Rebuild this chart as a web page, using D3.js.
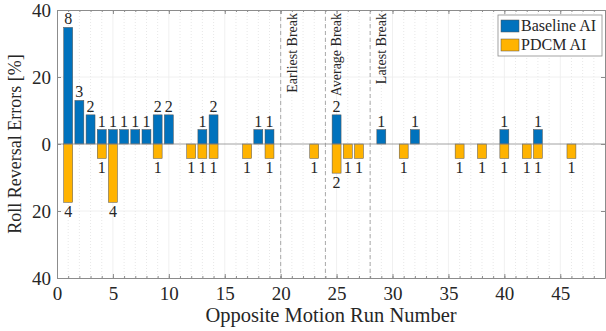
<!DOCTYPE html>
<html>
<head>
<meta charset="utf-8">
<script src="https://cdn.jsdelivr.net/npm/d3@7"></script>
<style>
  body { margin: 0; background: #fff; }
  svg { display: block; font-family: "Liberation Serif", "Times New Roman", serif; }
</style>
</head>
<body>
<div id="chart"></div>
<script>
// runs where each system made errors, percent of errors and the count printed on the bar
const baselineRuns = [1, 2, 3, 4, 5, 6, 7, 8, 9, 10, 13, 14, 18, 19, 25, 29, 32, 40, 43];
const baselineCounts = [8, 3, 2, 1, 1, 1, 1, 1, 2, 2, 1, 2, 1, 1, 2, 1, 1, 1, 1];
const baselinePct = [34.8, 13.0, 8.7, 4.3, 4.3, 4.3, 4.3, 4.3, 8.7, 8.7, 4.3, 8.7, 4.3, 4.3, 8.7, 4.3, 4.3, 4.3, 4.3];

const pdcmRuns = [1, 4, 5, 9, 12, 13, 14, 17, 19, 23, 25, 26, 27, 31, 36, 38, 40, 42, 43, 46];
const pdcmCounts = [4, 1, 4, 1, 1, 1, 1, 1, 1, 1, 2, 1, 1, 1, 1, 1, 1, 1, 1, 1];
const pdcmPct = [17.4, 4.3, 17.4, 4.3, 4.3, 4.3, 4.3, 4.3, 4.3, 4.3, 8.7, 4.3, 4.3, 4.3, 4.3, 4.3, 4.3, 4.3, 4.3, 4.3];

const breakRuns = [20, 24, 28];
const breakLabels = ['Earliest Break', 'Average Break', 'Latest Break'];

const xTicks = [0, 5, 10, 15, 20, 25, 30, 35, 40, 45];
const yTicks = [-40, -20, 0, 20, 40];
const seriesNames = ['Baseline AI', 'PDCM AI'];
const seriesColors = ['#0072BD', '#FFB300'];

const W = 606, H = 331;
const margin = { top: 10, right: 1, bottom: 53, left: 57 };
const width = W - margin.left - margin.right;
const height = H - margin.top - margin.bottom;

const svg = d3.select('#chart').append('svg')
  .attr('width', W).attr('height', H)
  .append('g')
  .attr('transform', `translate(${margin.left},${margin.top})`);

const x = d3.scaleLinear().domain([0, 49]).range([0, width]);
const y = d3.scaleLinear().domain([-40, 40]).range([height, 0]);
const barW = x(0.8) - x(0);

// grid
svg.append('g').selectAll('line')
  .data(d3.range(1, 49).filter(d => d % 5 !== 0))
  .enter().append('line')
  .attr('x1', d => x(d)).attr('x2', d => x(d))
  .attr('y1', 0).attr('y2', height)
  .attr('stroke', '#d6d6d6').attr('stroke-width', 0.6)
  .attr('stroke-dasharray', '1,2');
svg.append('g').selectAll('line')
  .data(xTicks.slice(1))
  .enter().append('line')
  .attr('x1', d => x(d)).attr('x2', d => x(d))
  .attr('y1', 0).attr('y2', height)
  .attr('stroke', '#ececec').attr('stroke-width', 0.8);
svg.append('g').selectAll('line')
  .data([-20, 20])
  .enter().append('line')
  .attr('x1', 0).attr('x2', width)
  .attr('y1', d => y(d)).attr('y2', d => y(d))
  .attr('stroke', '#ececec').attr('stroke-width', 0.8);

// break markers
svg.append('g').selectAll('line')
  .data(breakRuns)
  .enter().append('line')
  .attr('x1', d => x(d)).attr('x2', d => x(d))
  .attr('y1', 0).attr('y2', height)
  .attr('stroke', '#a0a0a0').attr('stroke-width', 0.9)
  .attr('stroke-dasharray', '4,3');
svg.append('g').selectAll('text')
  .data(breakRuns)
  .enter().append('text')
  .attr('transform', d => `translate(${x(d) + 16},3) rotate(-90)`)
  .attr('text-anchor', 'end')
  .attr('font-size', 14)
  .attr('fill', '#262626')
  .text((d, i) => breakLabels[i]);

// bars
function drawSeries(runs, pct, counts, color, sign) {
  const g = svg.append('g');
  g.selectAll('rect')
    .data(runs)
    .enter().append('rect')
    .attr('x', d => x(d) - barW / 2)
    .attr('y', (d, i) => sign > 0 ? y(pct[i]) : y(0))
    .attr('width', barW)
    .attr('height', (d, i) => Math.abs(y(0) - y(sign * pct[i])))
    .attr('fill', color)
    .attr('stroke', '#505050').attr('stroke-width', 0.5);
  g.selectAll('text')
    .data(runs)
    .enter().append('text')
    .attr('x', d => x(d))
    .attr('y', (d, i) => sign > 0 ? y(pct[i]) - 3 : y(-pct[i]) + 15)
    .attr('text-anchor', 'middle')
    .attr('font-size', 16)
    .attr('fill', '#262626')
    .text((d, i) => counts[i]);
}
drawSeries(baselineRuns, baselinePct, baselineCounts, seriesColors[0], 1);
drawSeries(pdcmRuns, pdcmPct, pdcmCounts, seriesColors[1], -1);

// zero baseline
svg.append('line')
  .attr('x1', 0).attr('x2', width)
  .attr('y1', y(0)).attr('y2', y(0))
  .attr('stroke', '#8c8c8c').attr('stroke-width', 0.8);

// axes
function styleAxis(g) {
  g.select('.domain').attr('stroke', '#8c8c8c');
  g.selectAll('.tick line').attr('stroke', '#8c8c8c');
  g.selectAll('.tick text').attr('fill', '#262626').attr('font-size', 19)
    .attr('font-family', '"Liberation Serif", serif');
}
const minor = d3.range(0, 50);
svg.append('g').attr('transform', `translate(0,${height})`)
  .call(d3.axisBottom(x).tickValues(minor).tickSize(-2).tickFormat(''))
  .call(g => { g.select('.domain').remove(); g.selectAll('line').attr('stroke', '#8c8c8c'); });
svg.append('g')
  .call(d3.axisTop(x).tickValues(minor).tickSize(-2).tickFormat(''))
  .call(g => { g.select('.domain').remove(); g.selectAll('line').attr('stroke', '#8c8c8c'); });

svg.append('g').attr('transform', `translate(0,${height})`)
  .call(d3.axisBottom(x).tickValues(xTicks).tickSize(-4).tickPadding(7).tickSizeOuter(0))
  .call(styleAxis)
  .call(g => g.selectAll('.tick text').attr('dy', '0.8em'));
svg.append('g')
  .call(d3.axisTop(x).tickValues(xTicks).tickSize(-4).tickFormat('').tickSizeOuter(0))
  .call(styleAxis);
svg.append('g')
  .call(d3.axisLeft(y).tickValues(yTicks).tickSize(-4).tickPadding(6).tickSizeOuter(0)
    .tickFormat(d => Math.abs(d)))
  .call(styleAxis);
svg.append('g').attr('transform', `translate(${width},0)`)
  .call(d3.axisRight(y).tickValues(yTicks).tickSize(-4).tickFormat('').tickSizeOuter(0))
  .call(styleAxis);

// axis titles
svg.append('text')
  .attr('x', width / 2).attr('y', height + 44)
  .attr('text-anchor', 'middle')
  .attr('font-size', 20.5).attr('fill', '#262626')
  .text('Opposite Motion Run Number');
svg.append('text')
  .attr('transform', `translate(${-36},${height / 2}) rotate(-90)`)
  .attr('text-anchor', 'middle')
  .attr('font-size', 18).attr('fill', '#262626')
  .text('Roll Reversal Errors [%]');

// legend
const lg = svg.append('g').attr('transform', `translate(${441},${5})`);
lg.append('rect')
  .attr('width', 104).attr('height', 41)
  .attr('fill', '#fff').attr('stroke', '#8c8c8c').attr('stroke-width', 0.8);
seriesNames.forEach((name, i) => {
  lg.append('rect')
    .attr('x', 3).attr('y', 5 + i * 19)
    .attr('width', 18).attr('height', 12)
    .attr('fill', seriesColors[i]).attr('stroke', '#505050').attr('stroke-width', 0.5);
  lg.append('text')
    .attr('x', 23).attr('y', 16 + i * 19)
    .attr('font-size', 16).attr('fill', '#262626')
    .text(name);
});
</script>
</body>
</html>
